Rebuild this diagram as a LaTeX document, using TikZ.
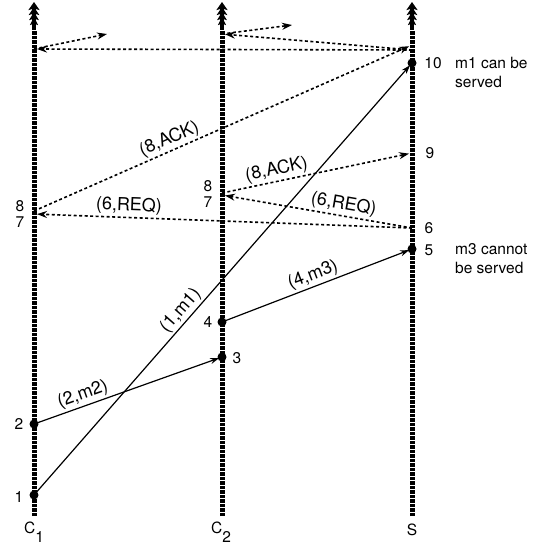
\documentclass[tikz,border=0pt]{standalone}
\usepackage{fontspec}
\setmainfont{TeX Gyre Heros}
\usetikzlibrary{arrows.meta}
\begin{document}
\begin{tikzpicture}[x=1pt,y=-1pt,
  lifeline/.style={line width=5pt,dash pattern=on 3.5pt off 1pt},
  toparrow/.style={line width=4pt,-{Stealth[length=8pt,width=8pt,inset=1.5pt,sep=-3pt]Stealth[length=8pt,width=9.5pt,inset=1.5pt,sep=-3pt]Stealth[length=8pt,width=10.5pt,inset=1.5pt,sep=-3pt]Stealth[length=8pt,width=11pt,inset=1.5pt,sep=-3pt]}},
  msg/.style={line width=1.2pt,-{Stealth[length=9pt,width=6pt]},shorten >=3pt},
  dmsg/.style={line width=1.6pt,dash pattern=on 3pt off 2.5pt,-{Stealth[length=10pt,width=7pt]},shorten >=3pt},
  lab/.style={font=\fontsize{18}{20}\selectfont,inner sep=2pt},
  num/.style={font=\fontsize{15.5}{17}\selectfont,inner sep=0pt},
  note/.style={font=\fontsize{15.5}{19}\selectfont,inner sep=0pt,align=left,anchor=west},
  ev/.style={fill=black}]
\useasboundingbox (0,0) rectangle (547,547);
% lifelines
\foreach \n/\x in {c1/34,c2/222,s/412}{
  \coordinate (\n top) at (\x,5);
  \coordinate (\n mid) at (\x,30);
  \coordinate (\n bot) at (\x,516);
}
\draw[lifeline] (c1bot) -- (c1mid);
\draw[lifeline] (c2bot) -- (c2mid);
\draw[lifeline] (sbot) -- (smid);
\draw[toparrow] (c1mid) -- (c1top);
\draw[toparrow] (c2mid) -- (c2top);
\draw[toparrow] (smid) -- (stop);
% events
\coordinate (c1a) at (34,495);
\coordinate (c1b) at (34,424);
\coordinate (c1r) at (34,214);
\coordinate (c1k) at (34,211);
\coordinate (c1t) at (34,49);
\coordinate (c1x) at (107,34);
\coordinate (c2a) at (222,357);
\coordinate (c2b) at (222,322);
\coordinate (c2r) at (222,195);
\coordinate (c2k) at (222,193);
\coordinate (c2t) at (222,34);
\coordinate (c2x) at (292,25);
\coordinate (sA) at (412,249);
\coordinate (sB) at (412,228);
\coordinate (sC) at (412,153);
\coordinate (sD) at (412,63);
\coordinate (sE) at (412,45);
\coordinate (sF) at (412,50);
% messages
\draw[msg] (c1a) -- node[lab,above,sloped,pos=0.41]{(1,m1)} (sD);
\draw[msg] (c1b) -- node[lab,above,sloped,pos=0.28]{(2,m2)} (c2a);
\draw[msg] (c2b) -- node[lab,above,sloped,pos=0.5]{(4,m3)} (sA);
\draw[dmsg] (sB) -- node[lab,above,sloped,pos=0.75]{(6,REQ)} (c1r);
\draw[dmsg] (sB) -- node[lab,above,sloped,pos=0.37]{(6,REQ)} (c2r);
\draw[dmsg] (c2k) -- node[lab,above,sloped,pos=0.3]{(8,ACK)} (sC);
\draw[dmsg] (c1k) -- node[lab,above,sloped,pos=0.37]{(8,ACK)} (sE);
\draw[dmsg] (sF) -- (c1t);
\draw[dmsg] (sF) -- (c2t);
\draw[dmsg,shorten >=0pt] (c1t) -- (c1x);
\draw[dmsg,shorten >=0pt] (c2t) -- (c2x);
% dots
\foreach \p in {c1a,c1b,c2a,c2b,sA,sD}{\fill[ev] (\p) circle (4.5);}
% numbers
\node[num] (n1) at (19,497) {1};
\node[num] (n2) at (19,424) {2};
\node[num] (n8a) at (20,206) {8};
\node[num] (n7a) at (20,222) {7};
\node[num] (n3) at (237,358) {3};
\node[num] (n4) at (208,322) {4};
\node[num] (n8b) at (208,186) {8};
\node[num] (n7b) at (208,202) {7};
\node[num] (n5) at (429,250) {5};
\node[num] (n6) at (429,228) {6};
\node[num] (n9) at (430,153) {9};
\node[num] (n10) at (433,63) {10};
\node[note] (t10) at (455,72) {m1 can be\\served};
\node[note] (t5) at (455,259) {m3 cannot\\be served};
% process names
\node[num,anchor=west] (lc1) at (24,532) {C\raisebox{-0.6em}{1}};
\node[num,anchor=west] (lc2) at (211,532) {C\raisebox{-0.6em}{2}};
\node[num] (ls) at (412,530) {S};
\end{tikzpicture}
\end{document}
